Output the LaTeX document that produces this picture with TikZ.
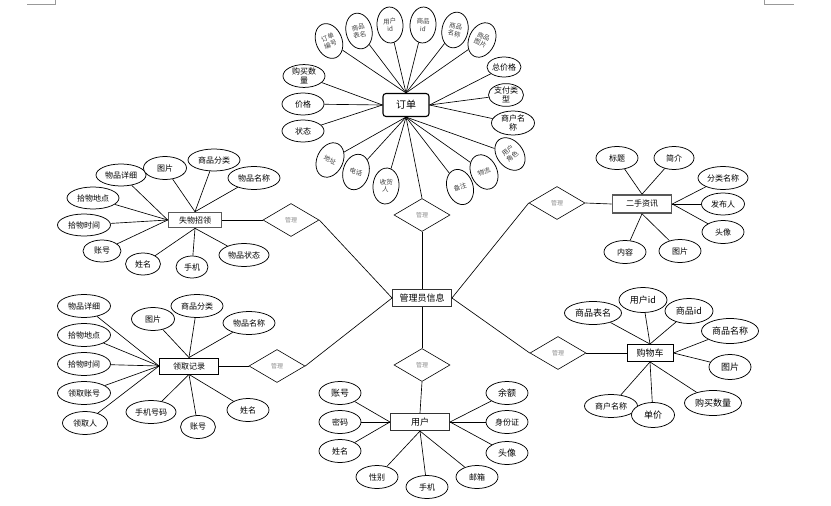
\documentclass[tikz,border=0pt]{standalone}
\usepackage{fontspec}
\newfontfamily\cjk{Noto Sans CJK SC}
\usetikzlibrary{shapes.geometric}
\tikzset{
  base/.style={font=\cjk\fontsize{8}{9}\selectfont, inner sep=0pt, align=center},
  attr/.style 2 args={base, ellipse, draw, line width=0.75pt, fill=white, minimum width=#1pt, minimum height=#2pt},
  tattr/.style={attr={26}{36}, font=\cjk\fontsize{6.5}{7.5}\selectfont, text=black!75},
  big/.style={font=\cjk\fontsize{9}{10}\selectfont},
  rel/.style={diamond, draw, line width=0.6pt, fill=white, aspect=1.7, minimum width=56pt, minimum height=33pt, inner sep=0pt, font=\cjk\fontsize{6}{7}\selectfont, text=black!45},
  ent/.style 2 args={base, rectangle, draw, fill=white, line width=0.9pt, minimum width=#1pt, minimum height=#2pt},
  heavy/.style={draw=black!65, line width=1.6pt},
  link/.style={line width=0.65pt},
  cornermark/.style={draw=black!40, line width=0.5pt}
}
\begin{document}
\begin{tikzpicture}[x=1pt,y=-1pt]
\useasboundingbox (0,0) rectangle (831,506);
\fill[white] (0,0) rectangle (831,506);
\draw[cornermark] (27,4) -- (55,4) -- (55,0);
\draw[cornermark] (764,0) -- (764,4) -- (794,4);

% ---------- centre ----------
\node[ent={59}{17}, big, draw=black!80] (gl) at (422,298) {管理员信息};
\node[rel] (d0) at (422,215) {管理};
\node[rel] (d5) at (422,365) {管理};
\node[rel] (d1) at (291,220) {管理};
\node[rel] (d2) at (277,366) {管理};
\node[rel] (d3) at (557,203) {管理};
\node[rel] (d4) at (558,353) {管理};

% ---------- order ----------
\node[ent={46}{23}, rounded corners=3pt, line width=1.1pt, font=\cjk\fontsize{10}{11}\selectfont] (ord) at (406,105) {订单};
\node[tattr, rotate=22] (o1) at (329,41) {订单\\编号};
\node[tattr, rotate=12] (o2) at (359,31) {商品\\表名};
\node[tattr, rotate=3] (o3) at (390,25) {用户\\id};
\node[tattr, rotate=-3] (o4) at (423,25) {商品\\id};
\node[tattr, rotate=-12] (o5) at (455,30) {商品\\名称};
\node[tattr, rotate=-25] (o6) at (482,40) {商品\\图片};
\node[attr={42}{22}] (o7) at (304,76) {购买数\\量};
\node[attr={42}{22}] (o8) at (303,104) {价格};
\node[attr={42}{22}] (o9) at (303,131) {状态};
\node[attr={34}{20}] (o10) at (504,67) {总价格};
\node[attr={35}{22}] (o11) at (506,95) {支付类\\型};
\node[attr={43}{24}] (o12) at (513,123) {商户名\\称};
\node[tattr, rotate=38] (o13) at (510,154) {用户\\角色};
\node[tattr, rotate=25] (o14) at (484,172) {物流};
\node[tattr, rotate=18] (o15) at (460,187) {备注};
\node[tattr, rotate=-5] (o16) at (386,186) {收货\\人};
\node[tattr, rotate=-15] (o17) at (356,172) {电话};
\node[tattr, rotate=-25] (o18) at (330,160) {地址};
\foreach \n in {o1,o2,o3,o4,o5,o6} \draw[link] (\n) -- (ord.north);
\foreach \n in {o7,o8,o9} \draw[link] (\n) -- (ord.west);
\foreach \n in {o10,o11,o12} \draw[link] (\n) -- (ord.east);
\foreach \n in {o13,o14,o15,o16,o17,o18} \draw[link] (\n) -- (ord.south);

% ---------- lost & found ----------
\node[ent={53}{15}, heavy] (lf) at (195,220) {失物招领};
\node[attr={50}{22}] (l1) at (121,175) {物品详细};
\node[attr={43}{23}] (l2) at (165,168) {图片};
\node[attr={52}{22}] (l3) at (214,160) {商品分类};
\node[attr={52}{23}] (l4) at (254,178) {物品名称};
\node[attr={52}{22}] (l5) at (93,198) {拾物地点};
\node[attr={53}{22}] (l6) at (84,225) {拾物时间};
\node[attr={38}{22}] (l7) at (102,251) {账号};
\node[attr={35}{22}] (l8) at (143,264) {姓名};
\node[attr={32}{22}] (l9) at (192,267) {手机};
\node[attr={50}{23}] (l10) at (244,255) {物品状态};
\foreach \n in {l1,l5,l6,l7} \draw[link] (\n) -- (lf.west);
\foreach \n in {l2,l3,l4} \draw[link] (\n) -- (lf.north);
\foreach \n in {l8,l9,l10} \draw[link] (\n) -- (lf.south);

% ---------- claim record ----------
\node[ent={59}{16}] (lq) at (189,366) {领取记录};
\node[attr={53}{23}] (q1) at (84,306) {物品详细};
\node[attr={43}{23}] (q2) at (153,319) {图片};
\node[attr={52}{23}] (q3) at (197,306) {商品分类};
\node[attr={52}{23}] (q4) at (249,323) {物品名称};
\node[attr={53}{23}] (q5) at (84,335) {拾物地点};
\node[attr={53}{23}] (q6) at (84,364) {拾物时间};
\node[attr={53}{23}] (q7) at (84,393) {领取账号};
\node[attr={45}{23}] (q8) at (85,423) {领取人};
\node[attr={50}{23}] (q9) at (151,412) {手机号码};
\node[attr={35}{23}] (q10) at (198,427) {账号};
\node[attr={42}{23}] (q11) at (248,410) {姓名};
\foreach \n in {q1,q5,q6,q7,q8} \draw[link] (\n) -- (lq.west);
\foreach \n in {q2,q3,q4} \draw[link] (\n) -- (lq.north);
\foreach \n in {q9,q10,q11} \draw[link] (\n) -- (lq.south);

% ---------- second-hand info ----------
\node[ent={59}{18}, heavy] (es) at (642,204) {二手资讯};
\node[attr={42}{23}] (e1) at (617,158) {标题};
\node[attr={40}{23}] (e2) at (674,158) {简介};
\node[attr={50}{23}] (e3) at (723,178) {分类名称};
\node[attr={43}{22}] (e4) at (723,204) {发布人};
\node[attr={42}{23}] (e5) at (723,232) {头像};
\node[attr={42}{23}] (e6) at (625,252) {内容};
\node[attr={42}{23}] (e7) at (680,251) {图片};
\foreach \n in {e1,e2} \draw[link] (\n) -- (es.north);
\foreach \n in {e3,e4,e5} \draw[link] (\n) -- (es.east);
\foreach \n in {e6,e7} \draw[link] (\n) -- (es.south);

% ---------- shopping cart ----------
\node[ent={46}{17}, big] (gw) at (650,353) {购物车};
\node[attr={57}{23}, big] (g1) at (593,313) {商品表名};
\node[attr={48}{25}, big] (g2) at (643,300) {用户id};
\node[attr={48}{25}, big] (g3) at (689,311) {商品id};
\node[attr={57}{25}, big] (g4) at (730,331) {商品名称};
\node[attr={42}{25}, big] (g5) at (730,367) {图片};
\node[attr={57}{25}, big] (g6) at (713,403) {购买数量};
\node[attr={53}{23}] (g8) at (611,406) {商户名称};
\node[attr={43}{25}, big] (g7) at (653,415) {单价};
\foreach \n in {g1,g2,g3} \draw[link] (\n) -- (gw.north);
\foreach \n in {g4,g5} \draw[link] (\n) -- (gw.east);
\foreach \n in {g6,g7,g8} \draw[link] (\n) -- (gw.south);

% ---------- user ----------
\node[ent={59}{17}, big, line width=1.1pt, draw=black!80] (yh) at (420,422) {用户};
\node[attr={42}{23}, big] (u1) at (340,393) {账号};
\node[attr={42}{23}] (u2) at (340,422) {密码};
\node[attr={42}{23}] (u3) at (340,451) {姓名};
\node[attr={42}{23}] (u4) at (377,477) {性别};
\node[attr={42}{23}] (u5) at (427,487) {手机};
\node[attr={42}{23}] (u6) at (477,477) {邮箱};
\node[attr={42}{23}, big] (u7) at (507,393) {余额};
\node[attr={42}{23}] (u8) at (507,422) {身份证};
\node[attr={42}{23}, big] (u9) at (507,453) {头像};
\foreach \n in {u1,u2,u3} \draw[link] (\n) -- (yh.west);
\foreach \n in {u4,u5,u6} \draw[link] (\n) -- (yh.south);
\foreach \n in {u7,u8,u9} \draw[link] (\n) -- (yh.east);

% ---------- relationships ----------
\draw[link] (ord.south) -- (d0.north);
\draw[link] (d0.south) -- (gl.north);
\draw[link] (gl.south) -- (d5.north);
\draw[link] (d5.south) -- (yh.north);
\draw[link] (lf.east) -- (d1.west);
\draw[link] (d1.east) -- (gl.west);
\draw[link, line width=1pt] (lq.east) -- (d2.west);
\draw[link] (d2.east) -- (gl.west);
\draw[link] (es.west) -- (d3.east);
\draw[link] (d3.west) -- (gl.east);
\draw[link, line width=1pt] (gw.west) -- (d4.east);
\draw[link] (d4.west) -- (gl.east);
\end{tikzpicture}
\end{document}
